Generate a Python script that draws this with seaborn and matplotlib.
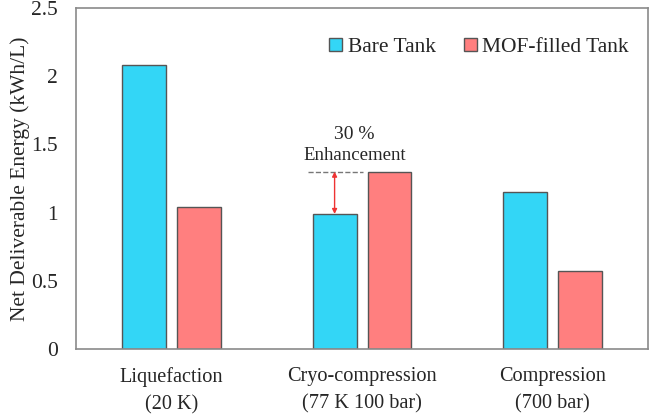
import pandas as pd
import matplotlib.pyplot as plt
import seaborn as sns

# data
categories = ["Liquefaction\n(20 K)", "Cryo-compression\n(77 K 100 bar)", "Compression\n(700 bar)"]
bare_tank = [2.08, 0.99, 1.15]
mof_tank = [1.04, 1.30, 0.57]
series = ["Bare Tank", "MOF-filled Tank"]

df = pd.DataFrame({
    "Category": categories * 2,
    "Energy": bare_tank + mof_tank,
    "Tank": [series[0]] * 3 + [series[1]] * 3,
})

sns.set_style("white")
plt.rcParams["font.family"] = ["Liberation Serif", "DejaVu Serif"]

fig = plt.figure(figsize=(6.5, 4.19), dpi=100)
ax = fig.add_axes([0.117, 0.167, 0.88, 0.814])

sns.barplot(x="Category", y="Energy", hue="Tank", data=df, ax=ax,
            palette=["#33D6F6", "#FF7F7F"], width=0.576, gap=0.2,
            edgecolor="#555555", linewidth=1.0, saturation=1)

ax.set_xlim(-0.5, 2.5)
ax.set_ylim(0, 2.5)
ax.set_yticks([0, 0.5, 1, 1.5, 2, 2.5])
ax.set_yticklabels(["0", "0.5", "1", "1.5", "2", "2.5"])
ax.tick_params(axis="y", direction="in", length=5, color="#888888", labelsize=15.5, pad=13)
ax.tick_params(axis="x", length=0, labelsize=14.6, pad=13)
for lbl in ax.get_xticklabels():
    lbl.set_linespacing(1.6)
ax.set_xlabel("")
ax.set_ylabel("Net Deliverable Energy (kWh/L)", fontsize=15.5, labelpad=1)
for s in ax.spines.values():
    s.set_color("#8a8a8a")
    s.set_linewidth(1.2)

ax.legend(loc="upper right", bbox_to_anchor=(1.0, 0.97), ncol=2, frameon=False,
          fontsize=15.5, handlelength=0.6, handleheight=0.6, handletextpad=0.25,
          columnspacing=1.3)

# 30 % enhancement annotation
ax.plot([0.715, 1.003], [1.30, 1.30], ls="--", color="#777777", lw=1)
ax.annotate("", xy=(0.856, 1.30), xytext=(0.856, 0.99),
            arrowprops=dict(arrowstyle="<|-|>", color="#ee3333", lw=1,
                            mutation_scale=7, shrinkA=0, shrinkB=0))
ax.text(0.96, 1.57, "30 %", ha="center", va="center", fontsize=14)
ax.text(0.96, 1.42, "Enhancement", ha="center", va="center", fontsize=13.5)

plt.savefig("out.png", dpi=100)
